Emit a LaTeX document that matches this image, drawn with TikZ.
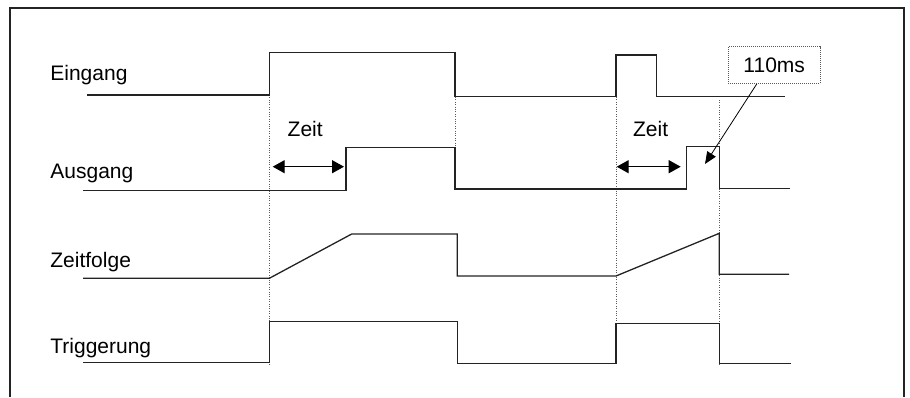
\documentclass[tikz,border=0pt]{standalone}
\usepackage{fontspec}
\setmainfont{Liberation Sans}
\usetikzlibrary{arrows.meta, positioning}
\definecolor{dkgray}{RGB}{35,35,35}
\definecolor{medgray}{RGB}{90,90,90}
\tikzset{
    frame/.style={draw=dkgray, line width=0.75pt},
    signal/.style={draw=dkgray, line width=0.65pt},
    guide/.style={draw=medgray, line width=0.4pt, dash pattern=on 0.5pt off 0.7pt},
    siglabel/.style={anchor=base west, inner sep=0pt, font=\fontsize{10.5}{12}\selectfont},
    notebox/.style={rectangle, draw=medgray, line width=0.5pt, dash pattern=on 0.5pt off 0.5pt,
                    minimum width=45.8pt, minimum height=18.3pt, inner sep=0pt,
                    font=\fontsize{10.5}{12}\selectfont},
    timearrow/.style={{Triangle[length=6pt,width=6.5pt]}-{Triangle[length=6pt,width=6.5pt]},
                      line width=0.65pt, draw=black},
    notearrow/.style={-{Triangle[length=6pt,width=5pt]}, line width=0.4pt, draw=black},
}

\begin{document}
\begin{tikzpicture}[x=0.5pt, y=-0.5pt]
    \useasboundingbox (0,0) rectangle (910,397);
    % Frame
    \draw[frame] (10,397) |- (904,8) -- (904,397);

    % Labels
    \node[siglabel] (eingang) at (50,80) {Eingang};
    \node[siglabel] (ausgang) at (50,178) {Ausgang};
    \node[siglabel] (zeitfolge) at (50,267) {Zeitfolge};
    \node[siglabel] (trigger) at (50,353) {Triggerung};

    % Guide lines
    \draw[guide] (269.3,90) -- (269.3,364);
    \draw[guide] (455,97) -- (455,155);
    \draw[guide] (616,97) -- (616,364);
    \draw[guide] (719.3,100) -- (719.3,365);

    % Eingang
    \draw[signal] (87,95) -- (269.3,95) -- (269.3,52.7) -- (455,52.7) -- (455,96.7)
        -- (616,96.7) -- (616,55) -- (656.7,55) -- (656.7,96.7) -- (785,96.7);

    % Ausgang
    \draw[signal] (83,190.7) -- (346,190.7) -- (346,147.3) -- (455,147.3) -- (455,189)
        -- (686.7,189) -- (686.7,146.7) -- (719.3,146.7) -- (719.3,188.3) -- (790,188.3);

    % Zeitfolge
    \draw[signal] (83,278.3) -- (269.3,278.3) -- (351.7,234) -- (457.3,234) -- (457.3,276)
        -- (616,276) -- (719.3,233.3) -- (719.3,274.3) -- (789,274.3);

    % Triggerung
    \draw[signal] (83,362.3) -- (269.3,362.3) -- (269.3,321.7) -- (457.3,321.7) -- (457.3,363.3)
        -- (616,363.3) -- (616,323.3) -- (719.3,323.3) -- (719.3,363.3) -- (790.7,363.3);

    % Delay arrows
    \node[siglabel] (zeit1) at (287.3,136.5) {Zeit};
    \node[siglabel] (zeit2) at (632.7,136.5) {Zeit};
    \coordinate (d1a) at (272.7,166.7);
    \coordinate (d1b) at (344,166.7);
    \coordinate (d2a) at (616.7,166.7);
    \coordinate (d2b) at (680.7,166.7);
    \draw[timearrow] (d1a) -- (d1b);
    \draw[timearrow] (d2a) -- (d2b);

    % 110ms note
    \node[notebox] (note) at (774.2,65) {110ms};
    \coordinate (notefoot) at (756.7,84);
    \coordinate (notetip) at (705,164);
    \draw[notearrow] (notefoot) -- (notetip);
\end{tikzpicture}
\end{document}
